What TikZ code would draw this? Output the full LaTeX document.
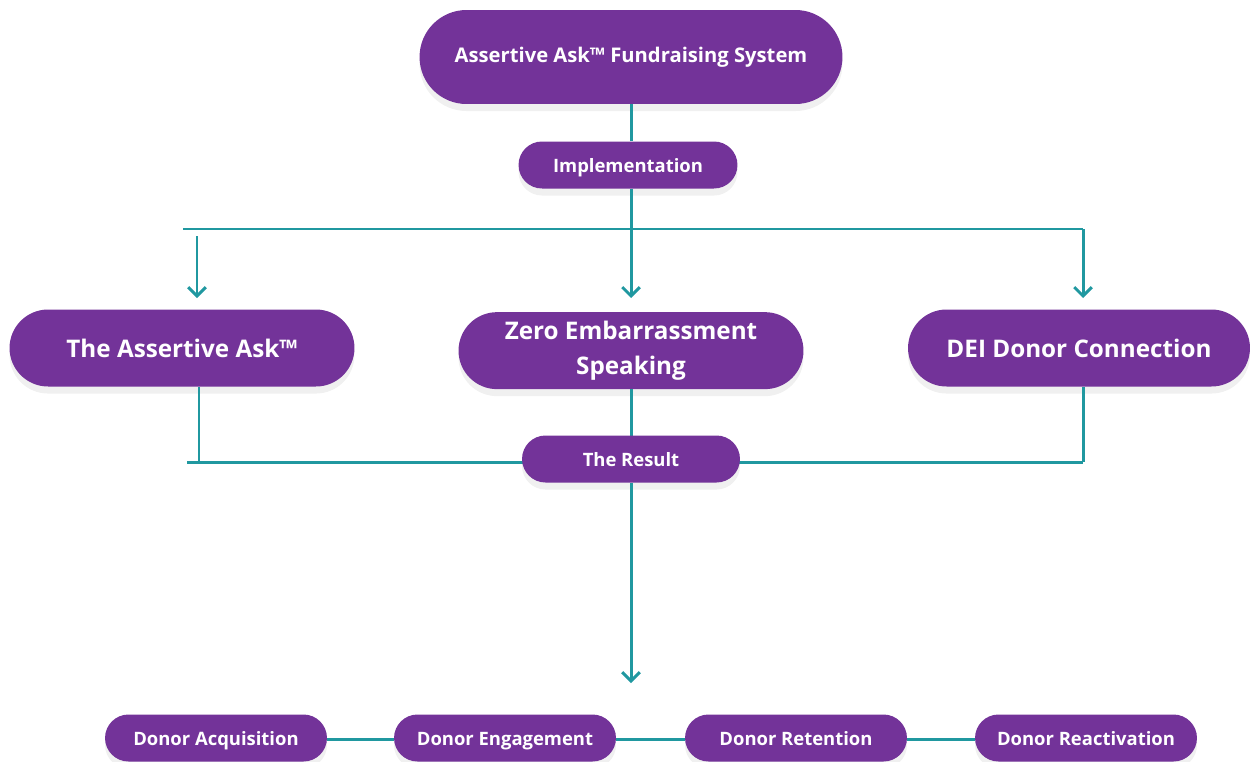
\documentclass[tikz,border=0pt]{standalone}
\usepackage{fontspec}
\setmainfont{Open Sans}
\usetikzlibrary{arrows.meta,shadows}
\definecolor{boxpurple}{RGB}{115,51,153}
\definecolor{linkteal}{RGB}{32,152,160}
\tikzset{
  pill/.style={rectangle, fill=boxpurple, text=white, font=\bfseries,
    align=center, inner sep=0pt,
    drop shadow={opacity=0.12, shadow xshift=0pt, shadow yshift=-4pt}},
  smallpill/.style={pill, minimum width=#1, minimum height=0.94cm, rounded corners=0.47cm,
    text height=9.6pt, text depth=1pt,
    font=\bfseries\fontsize{10.5}{13}\selectfont},
  bigpill/.style={pill, minimum width=#1, minimum height=1.54cm, rounded corners=0.77cm,
    font=\bfseries\fontsize{13.8}{19.5}\selectfont},
  link/.style={draw=linkteal, line width=1.7pt},
  linkarrow/.style={link, -{Straight Barb[length=5pt,width=10pt,line width=1.7pt]}},
}
\begin{document}
\begin{tikzpicture}[x=0.02cm, y=-0.02cm]
                \useasboundingbox (0,0) rectangle (1250,761);
                
                % Points on the connector lines
                \coordinate (hl) at (183,229);
                \coordinate (hr) at (1083,229);
                \coordinate (hm) at (631,229);
                \coordinate (al) at (197,236);
                \coordinate (alend) at (197,298);
                \coordinate (amend) at (631,298);
                \coordinate (arend) at (1083,298);
                \coordinate (rl) at (187,462);
                \coordinate (rlv) at (199,462);
                \coordinate (rr) at (1083,462);
                \coordinate (low) at (631,683);
                
                % Drawing node top
                \node [pill, minimum width=8.46cm, minimum height=1.88cm, rounded corners=0.94cm,
                       font=\bfseries\fontsize{11.5}{14}\selectfont] (sys) at (631,57) {Assertive Ask™ Fundraising System};
                
                % Drawing node implementation
                \node [smallpill=4.38cm] (impl) at (628,165) {Implementation};
                
                % Drawing the three methods
                \node [bigpill=6.9cm] (ask) at (182,348) {The Assertive Ask™};
                \node [bigpill=6.9cm, yshift=-1.5pt] (zero) at (631,348) {Zero Embarrassment\\Speaking};
                \node [bigpill=6.84cm] (dei) at (1079,348) {DEI Donor Connection};
                
                % Segments from the top down to the methods
                \draw [link] (hl) -- (hr);%
                \draw [link] (hm |- sys.south) -- (hm |- impl.north);%
                \draw [link] (hm |- impl.south) -- (hm);%
                \draw [linkarrow] (al) -- (alend);%
                \draw [linkarrow] (hm) -- (amend);%
                \draw [linkarrow] (hr) -- (arend);%
                
                % Segments from the methods to the result
                \draw [link] (rl) -- (rr);%
                \draw [link] (rlv) -- (rlv |- ask.south);%
                \draw [link] (rr) -- (rr |- dei.south);%
                \draw [link] (zero.south) -- (631,462);%
                
                % Drawing node result
                \node [smallpill=4.36cm] (res) at (631,459) {The Result};
                \draw [linkarrow] (res.south) -- (low);%
                
                % Drawing the four donor stages
                \node [smallpill=4.44cm] (acq) at (216,738) {Donor Acquisition};
                \node [smallpill=4.44cm] (eng) at (505,738) {Donor Engagement};
                \node [smallpill=4.44cm] (ret) at (796,738) {Donor Retention};
                \node [smallpill=4.44cm] (rea) at (1086,738) {Donor Reactivation};
                \draw [link] ([yshift=-1pt]acq.east) -- ([yshift=-1pt]eng.west);%
                \draw [link] ([yshift=-1pt]eng.east) -- ([yshift=-1pt]ret.west);%
                \draw [link] ([yshift=-1pt]ret.east) -- ([yshift=-1pt]rea.west);%
\end{tikzpicture}
\end{document}
